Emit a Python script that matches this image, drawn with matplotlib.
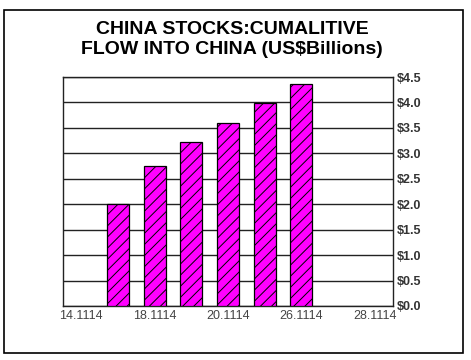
import matplotlib.pyplot as plt
import matplotlib.patches as mpatches
import matplotlib as mpl

plt.rcParams['font.family'] = ['Liberation Sans', 'DejaVu Sans']
mpl.rcParams['hatch.color'] = '#3a0050'
mpl.rcParams['hatch.linewidth'] = 0.7

# data: cumulative flow, US$ billions (empty slots have no bar)
dates = ['14.1114', '16.1114', '18.1114', '19.1114', '20.1114',
         '24.1114', '26.1114', '27.1114', '28.1114']
flow = [None, 2.0, 2.76, 3.22, 3.6, 3.98, 4.37, None, None]
ytick_vals = [0, 0.5, 1.0, 1.5, 2.0, 2.5, 3.0, 3.5, 4.0, 4.5]

fig = plt.figure(figsize=(4.71, 3.60), dpi=100)

# outer frame
fig.patches.append(mpatches.Rectangle((4 / 471, 1 - 353 / 360), 459 / 471, 343 / 360,
                                      transform=fig.transFigure, fill=False,
                                      edgecolor='black', linewidth=1.2))

fig.text(0.493, 1 - 30 / 360, 'CHINA STOCKS:CUMALITIVE', ha='center', va='center',
         fontsize=14, fontweight='heavy')
fig.text(0.493, 1 - 50 / 360, 'FLOW INTO CHINA (US$Billions)', ha='center', va='center',
         fontsize=14, fontweight='heavy')

ax = fig.add_axes([63 / 471, 1 - 306 / 360, 330 / 471, 229 / 360])
bx = [i for i, v in enumerate(flow) if v is not None]
bv = [v for v in flow if v is not None]
ax.bar(bx, bv, width=0.6, color='#ff00ff', edgecolor='black', linewidth=0.9,
       hatch='///', zorder=3)

x = list(range(len(dates)))
ax.set_xlim(-0.5, len(dates) - 0.5)
ax.set_ylim(0, 4.5)
ax.set_xticks(x[::2])
ax.set_xticklabels(dates[::2], color='#444444', fontsize=9)
ax.set_yticks(ytick_vals)
ax.set_yticklabels(['$%.1f' % v for v in ytick_vals], fontsize=9, fontweight='bold',
                   color='#333333')
ax.yaxis.tick_right()
ax.tick_params(axis='both', length=0, pad=3)
ax.grid(axis='y', color='#222222', linewidth=1.0, zorder=0)
for s in ax.spines.values():
    s.set_color('#222222')
    s.set_linewidth(1.0)

fig.savefig('out.png', dpi=100)
